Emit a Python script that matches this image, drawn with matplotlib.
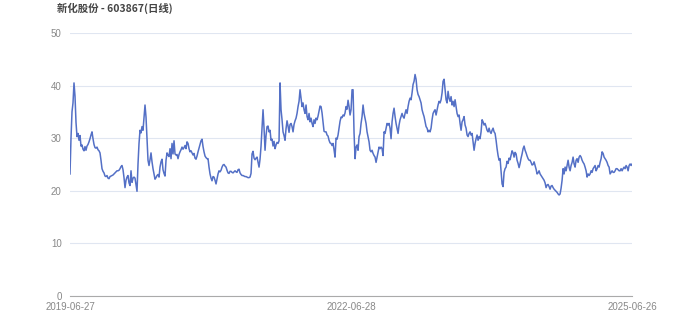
import matplotlib
matplotlib.use("Agg")
import matplotlib.pyplot as plt

title = "新化股份 - 603867(日线)"
tick_labels = ["2019-06-27", "2022-06-28", "2025-06-26"]

# closing prices, left to right
seg1 = [23.2, 30.0, 35.0, 36.7, 40.5, 38.0, 33.0, 30.3, 30.9, 29.6, 30.5, 28.5, 28.7, 27.9, 27.6, 28.4,
        27.7, 28.5, 28.8, 29.3, 29.9, 30.6, 31.2, 29.9, 28.8, 28.2, 28.1, 28.3, 27.8, 27.6, 27.2, 25.8,
        24.2, 23.7, 23.4, 22.8, 22.7, 22.9, 22.4, 22.3, 22.7, 22.8, 22.9, 23.0, 23.2, 23.4, 23.6, 23.8,
        23.8, 23.9, 24.2, 24.6, 24.8, 24.0, 22.5, 20.6, 22.0, 22.6, 22.9, 21.5, 21.0, 23.8, 21.6, 22.4,
        22.6, 22.4, 21.2, 19.9, 25.1, 29.0, 31.5, 31.0, 32.2, 31.5, 34.0, 36.3, 34.0, 30.0, 25.8, 24.8,
        25.9, 27.2, 25.5, 24.2, 23.2, 22.2, 22.5, 22.9, 23.1, 22.6, 24.5, 25.5, 26.0]
seg2 = [24.0, 23.3, 22.8, 25.8, 27.2, 26.8, 26.5, 28.0, 26.1, 29.0, 27.0, 29.5, 27.0, 26.8, 26.9, 26.1,
        26.9, 27.4, 27.8, 28.3, 27.9, 28.2, 28.6, 28.0, 29.3, 29.0, 28.0, 27.4, 27.6, 27.2, 26.8, 27.1,
        26.2, 26.0, 26.6, 27.4, 28.1, 28.8, 29.5, 29.8, 28.4, 27.4, 26.6, 26.3, 26.1, 26.1, 24.5, 23.2,
        22.4, 21.9, 22.7, 22.6, 22.0, 21.3, 22.3, 23.2, 23.8, 23.6, 23.9, 24.5, 24.9, 25.0, 24.7, 24.5,
        23.9, 23.4, 23.3, 23.7, 23.7, 23.5, 23.4, 23.6, 23.8, 23.6, 23.5, 24.0, 24.1, 23.4, 23.1, 22.9,
        22.9, 22.8, 22.7, 22.7, 22.6, 22.5, 22.5, 22.6, 23.3, 27.0, 27.5, 26.2, 25.9, 26.2, 26.4]
seg3 = [25.4, 24.5, 26.0, 28.5, 32.0, 35.4, 31.9, 27.7, 30.5, 32.2, 32.3, 31.2, 31.5, 29.6, 29.8, 28.5,
        29.4, 28.0, 28.7, 29.2, 29.0, 29.5, 40.5, 35.4, 33.5, 31.2, 30.5, 29.6, 31.8, 33.3, 32.3, 31.1,
        32.6, 32.8, 32.2, 31.2, 32.6, 33.3, 33.8, 34.7, 36.0, 37.0, 39.2, 37.6, 36.0, 36.7, 35.4, 34.7,
        36.3, 34.1, 33.5, 34.7, 33.1, 33.8, 32.8, 32.2, 33.5, 32.8, 33.8, 33.5, 34.2, 35.2, 36.1, 36.0,
        34.8, 33.0, 31.3, 31.2, 31.2, 30.6, 30.4, 29.6, 29.1, 29.0, 28.6, 29.0, 27.8, 26.4, 30.0, 29.8,
        30.6, 31.9, 33.2, 34.0, 33.9, 34.4, 34.2, 34.8, 36.0, 35.5, 37.2, 36.0, 34.4, 35.4, 39.2]
seg4 = [39.2, 31.0, 26.1, 28.3, 28.7, 27.7, 30.3, 30.9, 32.8, 34.1, 36.3, 34.7, 33.8, 32.8, 31.2, 30.3,
        29.3, 27.7, 27.4, 27.7, 27.1, 26.7, 26.4, 25.4, 26.4, 27.4, 28.3, 28.0, 28.3, 28.0, 26.7, 31.2,
        30.9, 31.9, 32.8, 32.5, 32.8, 31.9, 29.9, 33.1, 34.7, 35.7, 34.1, 32.8, 31.9, 30.9, 32.5, 33.5,
        34.1, 34.7, 34.1, 33.8, 34.7, 35.4, 34.7, 36.0, 37.0, 37.6, 37.3, 38.6, 40.2, 40.8, 42.1, 41.2,
        39.2, 38.3, 37.9, 37.3, 36.7, 35.4, 34.7, 34.1, 33.1, 32.2, 31.9, 31.2, 31.5, 31.2, 31.9, 33.5,
        34.7, 35.1, 35.4, 34.4, 35.4, 36.3, 37.0, 36.7, 37.3, 38.6, 40.8, 41.2, 39.2, 37.3, 36.7]
seg5 = [38.9, 37.6, 37.0, 37.9, 36.3, 37.0, 36.0, 37.3, 36.0, 34.7, 34.1, 34.4, 32.8, 31.5, 33.1, 33.5,
        34.1, 32.5, 31.9, 30.6, 30.3, 30.9, 31.2, 30.6, 30.9, 29.3, 27.7, 29.0, 29.9, 30.6, 29.6, 30.3,
        29.9, 31.2, 33.5, 33.1, 32.5, 32.8, 32.2, 31.5, 31.2, 31.9, 31.2, 30.9, 31.5, 31.9, 31.2, 30.9,
        29.6, 28.0, 26.7, 25.8, 26.1, 23.8, 21.3, 20.8, 23.5, 24.2, 24.5, 25.6, 25.2, 26.2, 25.9, 26.8,
        27.6, 27.2, 26.4, 27.3, 27.0, 25.8, 25.2, 24.4, 25.2, 26.2, 27.0, 28.0, 28.5, 27.7, 27.2, 26.6,
        26.1, 25.8, 25.8, 25.4, 24.9, 25.0, 25.5, 24.8, 24.1, 23.2, 23.4, 23.8, 23.2, 22.9, 22.6]
seg6 = [22.3, 22.0, 21.5, 20.6, 21.1, 21.2, 20.8, 20.3, 20.9, 21.0, 20.6, 20.3, 20.1, 19.9, 19.7, 19.4,
        19.2, 19.4, 20.5, 22.0, 24.2, 23.2, 24.5, 23.8, 24.8, 25.8, 24.5, 23.8, 24.8, 25.4, 26.4, 25.1,
        24.5, 25.8, 26.1, 25.4, 26.4, 26.7, 26.4, 25.8, 25.4, 25.1, 24.5, 23.8, 22.6, 23.2, 22.9, 23.2,
        23.8, 23.5, 24.2, 24.5, 24.8, 23.8, 24.2, 24.8, 24.5, 25.4, 26.1, 27.4, 27.1, 26.4, 26.1, 25.8,
        25.4, 24.8, 24.5, 23.2, 23.5, 23.8, 23.5, 23.5, 23.8, 24.2, 24.2, 24.0, 23.8, 23.8, 24.2, 23.8,
        24.2, 24.5, 24.2, 24.8, 24.5, 23.8, 24.8, 25.1, 24.8, 25.1]
prices = seg1 + seg2 + seg3 + seg4 + seg5 + seg6

plt.rcParams['font.family'] = ['Liberation Sans', 'Noto Sans CJK SC', 'DejaVu Sans']

fig = plt.figure(figsize=(7, 3.36), dpi=100)
ax = fig.add_axes([0.1, 0.119, 0.803, 0.783])

idx = list(range(len(prices)))
ax.plot(idx, prices, color='#5470c6', linewidth=1.1)

ax.set_xlim(0, len(prices) - 1)
ax.set_ylim(0, 50)
ax.set_yticks([0, 10, 20, 30, 40, 50])
ax.set_xticks([0, len(prices) // 2, len(prices) - 1])
ax.set_xticklabels(tick_labels)
ax.grid(axis='y', color='#e0e6f1', linewidth=0.8)
ax.set_axisbelow(True)
for side in ['top', 'right', 'left']:
    ax.spines[side].set_visible(False)
ax.spines['bottom'].set_color('#aaaaaa')
ax.tick_params(axis='both', length=0, labelsize=7, colors='#888888')
ax.tick_params(axis='y', pad=6)
ax.tick_params(axis='x', pad=4)

fig.text(0.081, 0.976, title, fontsize=7.5, fontweight='bold', color='#444444',
         family=['Noto Sans CJK SC', 'DejaVu Sans'], va='center', ha='left')

fig.savefig('out.png', dpi=100)
